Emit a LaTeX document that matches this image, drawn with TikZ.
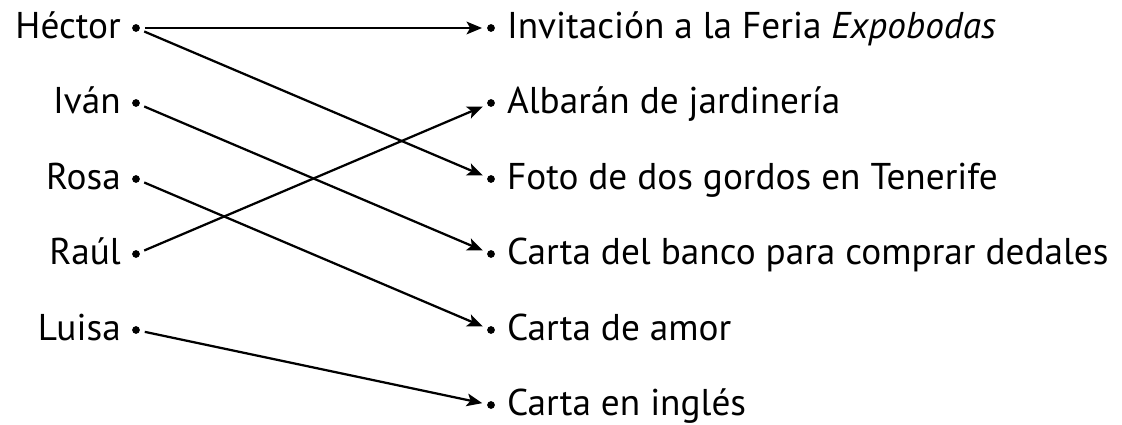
\documentclass[tikz,border=0pt]{standalone}
\usepackage{fontspec}
\setmainfont{PT Sans}
\usetikzlibrary{arrows.meta,positioning}

\begin{document}
\begin{tikzpicture}[x=0.025cm,y=-0.025cm,
	dot/.style={circle,fill,inner sep=0pt,minimum size=5.5pt,outer sep=3.6pt},
	who/.style={dot,label={[font=\fontsize{26.5}{30}\selectfont,anchor=base east,xshift=-1pt,yshift=-7.3pt]left:#1}},
	what/.style={dot,label={[font=\fontsize{26.5}{30}\selectfont,anchor=base west,xshift=1.5pt,yshift=-7.3pt]right:#1}},
	arr/.style={line width=1.6pt,-{Stealth[length=11pt,width=9pt,inset=2.5pt]}}]
	 \useasboundingbox (0,0) rectangle (1122,425);

	 \node at (136,28) [who=Héctor] (hector) {};
	 \node at (136,103) [who=Iván] (ivan) {};
	 \node at (136,179) [who=Rosa] (rosa) {};
	 \node at (136,254) [who=Raúl] (raul) {};
	 \node at (136,330) [who=Luisa] (luisa) {};

	 \node at (491,28) [what={Invitación a la Feria \textit{Expobodas}}] (feria) {};
	 \node at (491,103) [what={Albarán de jardinería}] (albaran) {};
	 \node at (491,179) [what={Foto de dos gordos en Tenerife}] (foto) {};
	 \node at (491,254) [what={Carta del banco para comprar dedales}] (banco) {};
	 \node at (491,330) [what={Carta de amor}] (amor) {};
	 \node at (491,405) [what={Carta en inglés}] (ingles) {};

	 \draw[arr] (hector) -- (feria);
	 \draw[arr] (hector) -- (foto);
	 \draw[arr] (ivan) -- (banco);
	 \draw[arr] (rosa) -- (amor);
	 \draw[arr] (raul) -- (albaran);
	 \draw[arr] (luisa) -- (ingles);

\end{tikzpicture}
\end{document}
